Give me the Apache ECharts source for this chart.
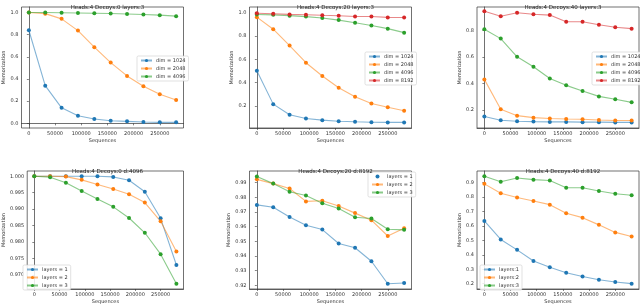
<!DOCTYPE html>
<html><head><meta charset="utf-8">
<script src="https://cdn.jsdelivr.net/npm/echarts@6/dist/echarts.min.js"></script>
<style>html,body{margin:0;padding:0;background:#fff}#c{width:640px;height:305px}</style>
</head><body><div id="c"></div>
<script>
// ---- data ----
const seqs = [0, 31250, 62500, 93750, 125000, 156250, 187500, 218750, 250000, 281250];
const xTicks = [0, 50000, 100000, 150000, 200000, 250000];

const titles = ['Heads:4 Decoys:0 layers:3', 'Heads:4 Decoys:20 layers:3', 'Heads:4 Decoys:40 layers:3',
                'Heads:4 Decoys:0 d:4096', 'Heads:4 Decoys:20 d:8192', 'Heads:4 Decoys:40 d:8192'];

// panel 1: Decoys 0, layers 3
const p1_dim1024 = [0.84, 0.34, 0.14, 0.069, 0.039, 0.024, 0.018, 0.012, 0.009, 0.009];
const p1_dim2048 = [1.0, 0.99, 0.943, 0.837, 0.687, 0.548, 0.428, 0.334, 0.262, 0.21];
const p1_dim4096 = [1.0, 0.9997, 0.998, 0.9955, 0.9931, 0.9907, 0.9873, 0.9828, 0.9763, 0.9673];
// panel 2: Decoys 20, layers 3
const p2_dim1024 = [0.503, 0.217, 0.126, 0.094, 0.08, 0.071, 0.066, 0.062, 0.061, 0.061];
const p2_dim2048 = [0.96, 0.857, 0.717, 0.571, 0.457, 0.357, 0.28, 0.223, 0.191, 0.16];
const p2_dim4096 = [0.983, 0.98, 0.973, 0.965, 0.953, 0.935, 0.912, 0.889, 0.862, 0.828];
const p2_dim8192 = [0.9942, 0.9893, 0.9838, 0.9812, 0.9759, 0.9723, 0.9664, 0.9655, 0.9582, 0.9578];
// panel 3: Decoys 40, layers 3
const p3_dim1024 = [0.15, 0.122, 0.115, 0.112, 0.11, 0.11, 0.108, 0.108, 0.106, 0.106];
const p3_dim2048 = [0.43, 0.205, 0.157, 0.142, 0.135, 0.132, 0.13, 0.124, 0.121, 0.121];
const p3_dim4096 = [0.807, 0.737, 0.6, 0.525, 0.437, 0.385, 0.342, 0.302, 0.28, 0.257];
const p3_dim8192 = [0.943, 0.905, 0.932, 0.92, 0.914, 0.864, 0.864, 0.841, 0.823, 0.812];
// panel 4: Decoys 0, d 4096
const p4_l1 = [1.0, 1.0, 1.0, 1.0, 1.0, 0.9998, 0.9988, 0.9953, 0.9872, 0.973];
const p4_l2 = [1.0, 1.0, 0.9999, 0.9989, 0.9975, 0.9961, 0.9945, 0.992, 0.9863, 0.9771];
const p4_l3 = [1.0, 0.9997, 0.998, 0.9955, 0.9931, 0.9907, 0.9873, 0.9828, 0.9763, 0.9673];
// panel 5: Decoys 20, d 8192
const p5_l1 = [0.9748, 0.9732, 0.9666, 0.9609, 0.958, 0.9485, 0.9456, 0.9364, 0.9211, 0.9216];
const p5_l2 = [0.9922, 0.9893, 0.986, 0.9772, 0.9776, 0.9741, 0.9692, 0.9644, 0.9536, 0.9589];
const p5_l3 = [0.9942, 0.9893, 0.9838, 0.9812, 0.9759, 0.9723, 0.9664, 0.9655, 0.9582, 0.9578];
// panel 6: Decoys 40, d 8192
const p6_l1 = [0.634, 0.506, 0.434, 0.357, 0.313, 0.276, 0.249, 0.227, 0.211, 0.2];
const p6_l2 = [0.891, 0.826, 0.796, 0.772, 0.747, 0.688, 0.657, 0.607, 0.555, 0.526];
const p6_l3 = [0.943, 0.905, 0.932, 0.92, 0.914, 0.864, 0.864, 0.841, 0.823, 0.812];

const yTicks = [
  [0.0, 0.2, 0.4, 0.6, 0.8, 1.0],
  [0.2, 0.4, 0.6, 0.8, 1.0],
  [0.2, 0.4, 0.6, 0.8],
  [0.970, 0.975, 0.980, 0.985, 0.990, 0.995, 1.000],
  [0.92, 0.93, 0.94, 0.95, 0.96, 0.97, 0.98, 0.99],
  [0.2, 0.3, 0.4, 0.5, 0.6, 0.7, 0.8, 0.9]
];
const yDecimals = [1, 1, 1, 3, 2, 1];
const yRange = [[-0.042, 1.05], [0.013, 1.047], [0.064, 0.975], [0.9657, 1.0016], [0.9175, 0.9979], [0.163, 0.98]];

const panels = [
  {names: ['dim = 1024', 'dim = 2048', 'dim = 4096'], data: [p1_dim1024, p1_dim2048, p1_dim4096]},
  {names: ['dim = 1024', 'dim = 2048', 'dim = 4096', 'dim = 8192'], data: [p2_dim1024, p2_dim2048, p2_dim4096, p2_dim8192]},
  {names: ['dim = 1024', 'dim = 2048', 'dim = 4096', 'dim = 8192'], data: [p3_dim1024, p3_dim2048, p3_dim4096, p3_dim8192]},
  {names: ['layers = 1', 'layers = 2', 'layers = 3'], data: [p4_l1, p4_l2, p4_l3]},
  {names: ['layers = 1', 'layers = 2', 'layers = 3'], data: [p5_l1, p5_l2, p5_l3]},
  {names: ['layers:1', 'layers:2', 'layers:3'], data: [p6_l1, p6_l2, p6_l3]}
];

// ---- layout ----
const colors = ['#1f77b4', '#ff7f0e', '#2ca02c', '#d62728'];
const FONT = 'DejaVu Sans';
const lefts = [21.5, 249.5, 477];
const tops = [7, 171];
const W = 162, H = 121;
const yNameGap = [14, 14, 13, 18, 16.5, 14];
const legendPos = [
  {left: 137, top: 56}, {left: 365, top: 52}, {left: 592, top: 52},
  {left: 23, top: 265}, {left: 368, top: 172}, {left: 480, top: 265}
];

const grid = [], xAxis = [], yAxis = [], series = [], title = [], legend = [];
for (let i = 0; i < 6; i++) {
  const L = lefts[i % 3], T = tops[Math.floor(i / 3)];
  grid.push({left: L, top: T, width: W, height: H, show: true, borderColor: '#333', borderWidth: 0.7, backgroundColor: '#fff'});
  title.push({text: titles[i], left: L + W / 2, top: T - 7, textAlign: 'center',
    textStyle: {fontFamily: FONT, fontSize: 5.5, fontWeight: 'normal', color: '#222'}});
  xAxis.push({type: 'value', gridIndex: i, min: -14062, max: 295312,
    name: 'Sequences', nameLocation: 'middle', nameGap: 10,
    nameTextStyle: {fontFamily: FONT, fontSize: 5, color: '#333'},
    axisLine: {show: true, lineStyle: {color: '#333', width: 0.7}},
    axisTick: {show: true, length: 2, customValues: xTicks, lineStyle: {color: '#333', width: 0.6}},
    axisLabel: {customValues: xTicks, fontFamily: FONT, fontSize: 5, color: '#333', margin: 3, formatter: v => String(Math.round(v))},
    splitLine: {show: false}});
  const dec = yDecimals[i];
  yAxis.push({type: 'value', gridIndex: i, min: yRange[i][0], max: yRange[i][1],
    name: 'Memorization', nameLocation: 'middle', nameGap: yNameGap[i], nameRotate: 90,
    nameTextStyle: {fontFamily: FONT, fontSize: 5, color: '#333'},
    axisLine: {show: true, lineStyle: {color: '#333', width: 0.7}},
    axisTick: {show: true, length: 2, customValues: yTicks[i], lineStyle: {color: '#333', width: 0.6}},
    axisLabel: {customValues: yTicks[i], fontFamily: FONT, fontSize: 5, color: '#333', margin: 3, formatter: v => v.toFixed(dec)},
    splitLine: {show: false}});
  const p = panels[i];
  const legData = [];
  p.names.forEach((nm, k) => {
    const sid = 'p' + i + '_' + k;
    series.push({type: 'line', id: sid, name: nm, xAxisIndex: i, yAxisIndex: i,
      data: seqs.map((x, j) => [x, p.data[k][j]]),
      symbol: 'circle', symbolSize: 4, color: colors[k],
      lineStyle: {width: 1.1, opacity: 0.55}, itemStyle: {color: colors[k]},
      emphasis: {disabled: true}, animation: false});
    legData.push(i === 4 && k === 0 ? {name: nm, icon: 'circle'} : {name: nm});
  });
  legend.push(Object.assign({orient: 'vertical', data: legData, itemWidth: 11, itemHeight: 4, itemGap: 3,
    padding: [2, 3, 2, 3], borderColor: '#ccc', borderWidth: 0.6, borderRadius: 1.5, backgroundColor: 'rgba(255,255,255,0.85)',
    textStyle: {fontFamily: FONT, fontSize: 5, color: '#333', padding: [0, 0, 0, -1]}, selectedMode: false}, legendPos[i]));
}

// legends must only list series of their own panel: ECharts legends match by name, so fine-tune via seriesIndex filtering isn't needed
const chart = echarts.init(document.getElementById('c'), null, {renderer: 'canvas'});
chart.setOption({backgroundColor: '#fff', animation: false, title, legend, grid, xAxis, yAxis, series});
</script>
</body></html>
